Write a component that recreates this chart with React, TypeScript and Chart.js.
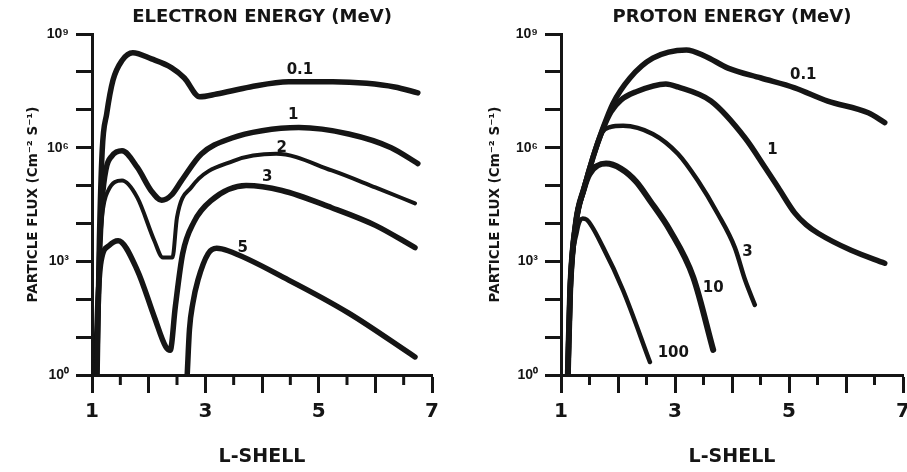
import React, { useEffect, useRef } from 'react';
import { Chart, registerables } from 'chart.js';

Chart.register(...registerables);

const FONT = '"DejaVu Sans", "Liberation Sans", Arial, sans-serif';
const NUM_FONT = '"Liberation Sans", Arial, Helvetica, sans-serif';
const INK = '#151515';

// ---------- axis ticks ----------
const xTickValues = [1, 2, 3, 4, 5, 6, 7];
const xTickText = ['1', '', '3', '', '5', '', '7'];
const xHalfTicks = [1.5, 2.5, 3.5, 4.5, 5.5, 6.5];
const yTickValues = [1, 1e1, 1e2, 1e3, 1e4, 1e5, 1e6, 1e7, 1e8, 1e9];
const yTickText = ['10⁰', '', '', '10³', '', '', '10⁶', '', '', '10⁹'];

// ---------- electron energy (MeV) ----------
const eL_01 = [1.09, 1.13, 1.18, 1.26, 1.37, 1.53, 1.72, 2.05, 2.4, 2.63, 2.9, 3.2, 3.79, 4.47, 5.25, 5.85, 6.34, 6.75];
const eF_01 = [1, 3.2e3, 8.3e5, 7.9e6, 6.0e7, 2.0e8, 3.2e8, 2.2e8, 1.3e8, 6.9e7, 2.2e7, 2.6e7, 4.0e7, 5.5e7, 5.5e7, 5.0e7, 4.0e7, 2.8e7];

const eL_1 = [1.08, 1.13, 1.18, 1.25, 1.35, 1.53, 1.8, 2.05, 2.23, 2.4, 2.58, 2.93, 3.47, 4.0, 4.65, 5.53, 6.28, 6.75];
const eF_1 = [1, 1.0e3, 4.0e4, 2.8e5, 6.0e5, 8.3e5, 3.0e5, 7.1e4, 4.1e4, 5.6e4, 1.35e5, 6.8e5, 1.8e6, 2.8e6, 3.4e6, 2.3e6, 1.0e6, 3.8e5];

const eL_2 = [1.07, 1.12, 1.18, 1.28, 1.53, 1.8, 2.1, 2.25, 2.42, 2.5, 2.75, 3.5, 4.25, 5.23, 6.0, 6.7];
const eF_2 = [1, 630, 1.6e4, 7.1e4, 1.35e5, 4.8e4, 3.5e3, 1.26e3, 1.26e3, 1.45e4, 8.9e4, 4.5e5, 6.9e5, 2.5e5, 8.9e4, 3.4e4];

const eL_3 = [1.06, 1.1, 1.16, 1.3, 1.46, 1.8, 2.1, 2.3, 2.38, 2.47, 2.6, 2.8, 3.1, 3.72, 4.35, 5.23, 6.0, 6.7];
const eF_3 = [1, 63, 1.0e3, 2.6e3, 3.5e3, 580, 34, 5.6, 4.5, 63, 1.6e3, 1.1e4, 4.0e4, 1.0e5, 7.4e4, 2.6e4, 8.9e3, 2.3e3];

const eL_5 = [2.68, 2.72, 2.78, 2.87, 3.05, 3.2, 3.4, 4.47, 5.53, 6.7];
const eF_5 = [1, 16, 79, 320, 1.6e3, 2.2e3, 1.9e3, 320, 43, 3.0];

// ---------- proton energy (MeV) ----------
const pL_01 = [1.12, 1.16, 1.26, 1.4, 1.56, 1.74, 1.91, 2.21, 2.61, 3.2, 3.53, 3.93, 4.51, 5.1, 5.68, 6.39, 6.68];
const pF_01 = [1, 160, 1.0e4, 7.9e4, 5.5e5, 3.4e6, 1.45e7, 6.9e7, 2.3e8, 3.8e8, 2.6e8, 1.26e8, 6.9e7, 3.8e7, 1.7e7, 8.3e6, 4.6e6];

const pL_1 = [1.12, 1.16, 1.26, 1.4, 1.56, 1.74, 1.88, 2.05, 2.32, 2.84, 3.05, 3.63, 4.23, 4.58, 4.81, 5.1, 5.3, 5.51, 6.09, 6.68];
const pF_1 = [1, 160, 1.0e4, 7.9e4, 5.5e5, 3.2e6, 8.9e6, 1.8e7, 3.0e7, 4.8e7, 4.0e7, 1.7e7, 1.8e6, 3.0e5, 8.9e4, 1.9e4, 9.3e3, 5.5e3, 1.95e3, 890];

const pL_3 = [1.12, 1.16, 1.26, 1.4, 1.56, 1.72, 1.86, 2.09, 2.61, 3.05, 3.4, 3.75, 4.05, 4.23, 4.4];
const pF_3 = [1, 160, 1.0e4, 7.9e4, 5.5e5, 2.5e6, 3.5e6, 3.8e6, 2.3e6, 6.9e5, 1.35e5, 1.8e4, 2.3e3, 320, 71];

const pL_10 = [1.12, 1.16, 1.26, 1.4, 1.5, 1.79, 2.05, 2.32, 2.56, 2.91, 3.32, 3.67];
const pF_10 = [1, 160, 1.0e4, 7.9e4, 2.0e5, 3.8e5, 2.8e5, 1.26e5, 4.0e4, 6.6e3, 380, 4.6];

const pL_100 = [1.12, 1.16, 1.28, 1.38, 1.45, 1.74, 2.09, 2.56];
const pF_100 = [1, 160, 6.3e3, 1.35e4, 1.26e4, 2.3e3, 170, 2.2];

// ---------- curve labels (text, L, flux) ----------
const eLabelText = ['0.1', '1', '2', '3', '5'];
const eLabelL = [4.67, 4.55, 4.35, 4.09, 3.66];
const eLabelF = [1.1e8, 7.2e6, 1.0e6, 1.7e5, 2.2e3];

const pLabelText = ['0.1', '1', '3', '10', '100'];
const pLabelL = [5.25, 4.71, 4.27, 3.67, 2.97];
const pLabelF = [8.3e7, 8.7e5, 1.8e3, 200, 3.8];

const yTitle = 'PARTICLE FLUX (Cm⁻² S⁻¹)';
const xTitle = 'L-SHELL';

type Curve = { xs: number[]; ys: number[]; w: number };

const annotatePlugin = {
  id: 'annotate',
  afterDraw(chart: any, _args: any, opts: any) {
    const { ctx } = chart;
    const x = chart.scales.x;
    const y = chart.scales.y;
    ctx.save();
    ctx.strokeStyle = INK;
    ctx.lineWidth = 3;
    for (const v of xHalfTicks) {
      const px = x.getPixelForValue(v);
      ctx.beginPath();
      ctx.moveTo(px, y.bottom);
      ctx.lineTo(px, y.bottom + 10);
      ctx.stroke();
    }
    ctx.fillStyle = INK;
    ctx.font = `bold 15px ${FONT}`;
    ctx.textAlign = 'center';
    ctx.textBaseline = 'middle';
    const texts: string[] = opts.texts || [];
    texts.forEach((t: string, i: number) => {
      ctx.fillText(t, x.getPixelForValue(opts.ls[i]), y.getPixelForValue(opts.fs[i]));
    });
    ctx.restore();
  },
};

function makeConfig(p: {
  title: string;
  curves: Curve[];
  yWidth: number;
  padRight: number;
  yTitlePad: number;
  texts: string[];
  ls: number[];
  fs: number[];
}) {
  return {
    type: 'line',
    data: {
      datasets: p.curves.map((c) => ({
        data: c.xs.map((v, i) => ({ x: v, y: c.ys[i] })),
        borderColor: INK,
        borderWidth: c.w,
        pointRadius: 0,
        fill: false,
        cubicInterpolationMode: 'monotone',
        borderCapStyle: 'round',
        borderJoinStyle: 'round',
      })),
    },
    options: {
      animation: false,
      responsive: true,
      maintainAspectRatio: false,
      layout: { padding: { left: 0, right: p.padRight, top: 0, bottom: 0 } },
      plugins: {
        legend: { display: false },
        tooltip: { enabled: false },
        title: {
          display: true,
          text: p.title,
          fullSize: false,
          color: INK,
          font: { family: FONT, size: 18, weight: 'bold' },
          padding: { top: 7, bottom: 5.4 },
        },
        annotate: { texts: p.texts, ls: p.ls, fs: p.fs },
      },
      scales: {
        x: {
          type: 'linear',
          min: 1,
          max: 7,
          afterBuildTicks: (s: any) => {
            s.ticks = xTickValues.map((v) => ({ value: v }));
          },
          afterFit: (s: any) => {
            s.height = 97;
          },
          ticks: {
            autoSkip: false,
            maxRotation: 0,
            color: INK,
            padding: 7,
            font: { family: FONT, size: 20, weight: 'bold' },
            callback: (_v: any, i: number) => xTickText[i],
          },
          grid: {
            drawOnChartArea: false,
            drawTicks: true,
            tickLength: 18,
            tickWidth: 3,
            tickColor: INK,
          },
          border: { display: true, width: 3, color: INK },
          title: {
            display: true,
            text: xTitle,
            color: INK,
            font: { family: FONT, size: 19, weight: 'bold' },
            padding: { top: 0, bottom: 4 },
          },
        },
        y: {
          type: 'logarithmic',
          min: 1,
          max: 1e9,
          afterBuildTicks: (s: any) => {
            s.ticks = yTickValues.map((v) => ({ value: v }));
          },
          afterFit: (s: any) => {
            s.width = p.yWidth;
          },
          ticks: {
            autoSkip: false,
            color: INK,
            padding: 7,
            font: { family: NUM_FONT, size: 14, weight: 'bold' },
            callback: (_v: any, i: number) => yTickText[i],
          },
          grid: {
            drawOnChartArea: false,
            drawTicks: true,
            tickLength: 16,
            tickWidth: 3,
            tickColor: INK,
          },
          border: { display: true, width: 3, color: INK },
          title: {
            display: true,
            text: yTitle,
            color: INK,
            font: { family: FONT, size: 13.5, weight: 'bold' },
            padding: { top: p.yTitlePad, bottom: 0 },
          },
        },
      },
    },
    plugins: [annotatePlugin],
  };
}

function Panel(props: { left: number; width: number; config: any }) {
  const ref = useRef<HTMLCanvasElement | null>(null);
  useEffect(() => {
    if (!ref.current) return;
    const chart = new Chart(ref.current, props.config);
    return () => chart.destroy();
  }, []);
  return (
    <div style={{ position: 'absolute', left: props.left, top: 0, width: props.width, height: 472 }}>
      <canvas ref={ref} />
    </div>
  );
}

export default function App() {
  const electron = makeConfig({
    title: 'ELECTRON ENERGY (MeV)',
    curves: [
      { xs: eL_01, ys: eF_01, w: 5.5 },
      { xs: eL_1, ys: eF_1, w: 5.5 },
      { xs: eL_2, ys: eF_2, w: 4 },
      { xs: eL_3, ys: eF_3, w: 5.5 },
      { xs: eL_5, ys: eF_5, w: 5.5 },
    ],
    yWidth: 92,
    padRight: 18,
    yTitlePad: 25,
    texts: eLabelText,
    ls: eLabelL,
    fs: eLabelF,
  });
  const proton = makeConfig({
    title: 'PROTON ENERGY (MeV)',
    curves: [
      { xs: pL_01, ys: pF_01, w: 5.5 },
      { xs: pL_1, ys: pF_1, w: 5.5 },
      { xs: pL_3, ys: pF_3, w: 4.5 },
      { xs: pL_10, ys: pF_10, w: 6 },
      { xs: pL_100, ys: pF_100, w: 4.5 },
    ],
    yWidth: 111,
    padRight: 27,
    yTitlePad: 37,
    texts: pLabelText,
    ls: pLabelL,
    fs: pLabelF,
  });
  return (
    <div
      style={{
        position: 'fixed',
        left: 0,
        top: 0,
        width: 907,
        height: 472,
        overflow: 'hidden',
        background: '#fff',
      }}
    >
      <Panel left={0} width={450} config={electron} />
      <Panel left={450} width={480} config={proton} />
    </div>
  );
}
